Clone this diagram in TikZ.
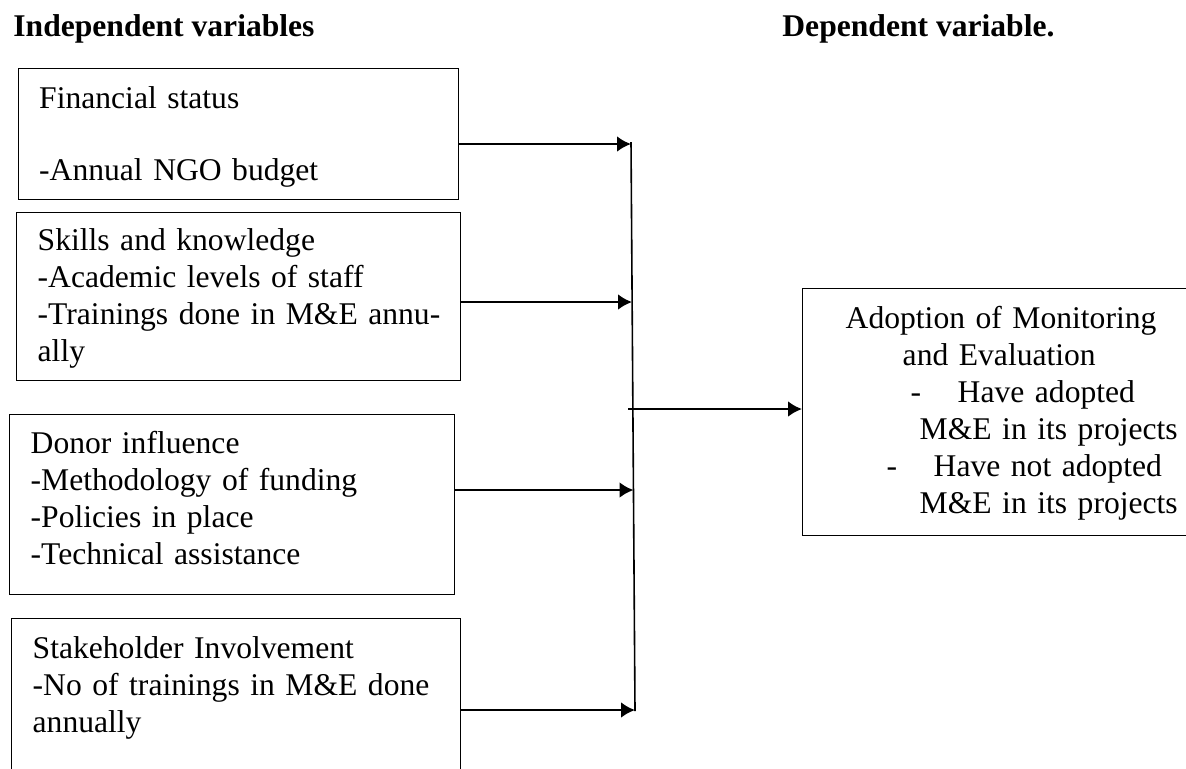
\documentclass[tikz,border=0pt]{standalone}
\usepackage{fontspec}
\setmainfont{Liberation Serif}
\usetikzlibrary{arrows.meta}
\tikzset{my_diagram/.style={x=0.5pt,y=-0.5pt,font=\fontsize{15.8}{18.5}\selectfont}}
\tikzset{my_box/.style={draw, rectangle, line width=0.7pt, anchor=north west, align=left, inner xsep=10.5pt, inner ysep=0pt}}
\tikzset{my_title/.style={anchor=base west, inner sep=0pt, font=\fontsize{15.8}{18.5}\selectfont\bfseries}}
\tikzset{my_arrow/.style={-{Latex[length=7pt,width=8pt]}, line width=1.4pt}}

\begin{document}
\begin{tikzpicture}[my_diagram]
    %\draw[help lines] (0,0) grid[step=50] (1186,768);
    \useasboundingbox (0,0) rectangle (1186,768);
    \node[my_title] (iv) at (13,36) {Independent variables};
    \node[my_title] (dv) at (782,36) {Dependent variable.};

    \node[my_box, text width=199pt, text height=20pt, text depth=45.5pt] (fin) at (17.5,68) {Financial status\\[17.5pt]-Annual NGO budget};
    \node[my_box, text width=201pt, text height=19pt, text depth=65pt] (skill) at (16,212) {Skills and knowledge\\-Academic levels of staff\\\mbox{-Trainings done in M\&E annu-}\\ally};
    \node[my_box, text width=201.5pt, text height=19.5pt, text depth=70.5pt] (donor) at (9,414) {Donor influence\\-Methodology of funding\\-Policies in place\\-Technical assistance};
    \node[my_box, text width=203.5pt, text height=20pt, text depth=71pt] (stake) at (11,618) {Stakeholder Involvement\\-No of trainings in M\&E done\\annually};
    \node[my_box, text width=170pt, inner xsep=21.5pt, text height=20pt, text depth=103.5pt] (adopt) at (802,288) {Adoption of Monitoring\\
        \hspace*{28.5pt}and Evaluation\\
        \hspace*{32.5pt}-\hspace*{18.25pt}Have adopted\\
        \hspace*{37pt}M\&E in its projects\\
        \hspace*{20.5pt}-\hspace*{18.25pt}Have not adopted\\
        \hspace*{37pt}M\&E in its projects};

    \coordinate (top) at (631,142);
    \coordinate (bot) at (635,711);
    \coordinate (j1) at (631,144);
    \coordinate (j2) at (632,302);
    \coordinate (j3) at (633.5,490);
    \coordinate (j4) at (635,710);
    \coordinate (jm) at (628,409);

    \draw[line width=0.8pt] (top) -- (bot);
    \draw[my_arrow] (fin.east |- j1) -- (j1);
    \draw[my_arrow] (skill.east |- j2) -- (j2);
    \draw[my_arrow] (donor.east |- j3) -- (j3);
    \draw[my_arrow] (stake.east |- j4) -- (j4);
    \draw[my_arrow] (jm) -- (adopt.west |- jm);
\end{tikzpicture}
\end{document}
